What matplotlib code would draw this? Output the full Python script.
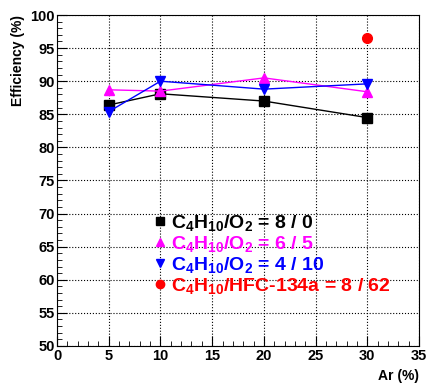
import numpy as np
import matplotlib.pyplot as plt
from matplotlib.lines import Line2D
from matplotlib.ticker import MultipleLocator

plt.rcParams['font.family'] = 'Liberation Sans'
plt.rcParams['font.weight'] = 'bold'
plt.rcParams['mathtext.default'] = 'regular'

# Data
ar = [5, 10, 20, 30]
eff_8_0 = [86.4, 88.1, 87.0, 84.5]
eff_6_5 = [88.7, 88.5, 90.5, 88.4]
eff_4_10 = [85.4, 90.0, 88.8, 89.6]
ar_hfc = [30]
eff_hfc = [96.5]

labels = [r"C$_4$H$_{10}$/O$_2$ = 8 / 0",
          r"C$_4$H$_{10}$/O$_2$ = 6 / 5",
          r"C$_4$H$_{10}$/O$_2$ = 4 / 10",
          r"C$_4$H$_{10}$/HFC-134a = 8 / 62"]
colors = ['black', '#ff00ff', '#0000ff', '#ff0000']
markers = ['s', '^', 'v', 'o']

fig = plt.figure(figsize=(4.27, 3.9), dpi=100)
ax = fig.add_axes([0.1335, 0.113, 0.848, 0.8485])

series = [(ar, eff_8_0), (ar, eff_6_5), (ar, eff_4_10)]
for (x, y), c, m in zip(series, colors, markers):
    ax.plot(x, y, color=c, lw=1, marker=m, ms=7.5, mfc=c, mec=c)
ax.plot(ar_hfc, eff_hfc, ls='none', marker='o', ms=7, color=colors[3])

ax.set_xlim(0, 35)
ax.set_ylim(50, 100)
ax.xaxis.set_major_locator(MultipleLocator(5))
ax.xaxis.set_minor_locator(MultipleLocator(1))
ax.yaxis.set_major_locator(MultipleLocator(5))
ax.yaxis.set_minor_locator(MultipleLocator(1))
ax.tick_params(which='both', direction='in', top=False, right=False, labelsize=10.5)
ax.tick_params(which='major', length=7)
ax.tick_params(which='minor', length=3.5)
ax.tick_params(axis='y', pad=1.5)
ax.tick_params(axis='x', pad=2.5)
ax.grid(True, which='major', ls=':', color='black', lw=0.8)

ax.set_xlabel("Ar (%)", fontsize=10, fontweight='bold', loc='right')
ax.set_ylabel("Efficiency (%)", fontsize=10, fontweight='bold', loc='top')

handles = [Line2D([], [], ls='none', marker=m, color=c, ms=6) for c, m in zip(colors, markers)]
leg = ax.legend(handles, labels, loc='upper left', bbox_to_anchor=(0.246, 0.425),
                frameon=False, fontsize=14, handlelength=0.6, handletextpad=0.3,
                labelspacing=0.05, labelcolor='linecolor', borderaxespad=0)
for t in leg.get_texts():
    t.set_fontweight('bold')

fig.canvas.draw()
for tick in ax.xaxis.get_major_ticks() + ax.yaxis.get_major_ticks():
    tick.label1.set_fontweight('bold')

fig.savefig('out.png', dpi=100)
